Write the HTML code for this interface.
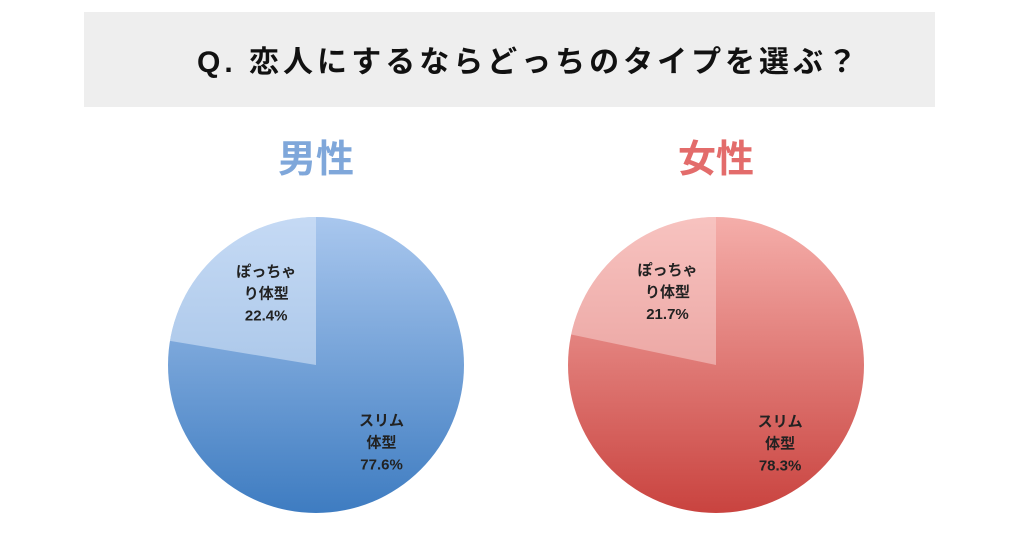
<!DOCTYPE html>
<html><head><meta charset="utf-8"><style>
html,body{margin:0;padding:0;background:#fff;width:1024px;height:538px;overflow:hidden}
svg{display:block}
text{font-family:"Liberation Sans","Noto Sans CJK JP",sans-serif}
</style></head><body>
<svg id="chart" width="1024" height="538" viewBox="0 0 1024 538">
<defs>
<linearGradient id="gb" x1="0" y1="0" x2="0" y2="1"><stop offset="0" stop-color="#a9c7ee"/><stop offset="1" stop-color="#3e7cc1"/></linearGradient>
<linearGradient id="gr" x1="0" y1="0" x2="0" y2="1"><stop offset="0" stop-color="#f5aeaa"/><stop offset="1" stop-color="#c9433f"/></linearGradient>
</defs>
<rect x="84" y="12" width="851" height="95" fill="#eeeeee"/>
<text x="197" y="72" textLength="660" lengthAdjust="spacing" font-size="30" font-weight="bold" fill="#111">Q. 恋人にするならどっちのタイプを選ぶ？</text>
<g id="pies"></g>
</svg>
<script>
const groups = ["男性", "女性"];
const categories = ["スリム体型", "ぽっちゃり体型"];
const slimValues = [77.6, 78.3];
const chubbyValues = [22.4, 21.7];
const centersX = [316, 716];
const cy = 365, r = 148;
const headColors = ["#7fa7da", "#e36c6b"];
const grads = ["url(#gb)", "url(#gr)"];
const smallFill = ["rgba(220,233,250,0.55)", "rgba(250,215,213,0.5)"];
const NS = "http://www.w3.org/2000/svg";
const g = document.getElementById("pies");
function pt(cx, a){ return [cx + r*Math.sin(a), cy - r*Math.cos(a)]; }
function arc(cx, a0, a1){
  const p0 = pt(cx,a0), p1 = pt(cx,a1);
  const large = (a1-a0) > Math.PI ? 1 : 0;
  return `M${cx},${cy} L${p0[0]},${p0[1]} A${r},${r} 0 ${large} 1 ${p1[0]},${p1[1]} Z`;
}
function txt(x,y,s,size,fill,name){
  const t = document.createElementNS(NS,"text");
  t.setAttribute("x",x); t.setAttribute("y",y);
  t.setAttribute("text-anchor","middle"); t.setAttribute("font-size",size);
  t.setAttribute("font-weight","bold"); t.setAttribute("fill",fill);
  t.textContent = s;
  
  
  g.appendChild(t);
}
groups.forEach((grp,i)=>{
  const cx = centersX[i];
  const total = slimValues[i] + chubbyValues[i];
  const aSlim = slimValues[i]/total*2*Math.PI;
  txt(cx, 172, grp, 38, headColors[i], "group-heading");
  const base = document.createElementNS(NS,"circle");
  base.setAttribute("cx",cx); base.setAttribute("cy",cy); base.setAttribute("r",r);
  base.setAttribute("fill",grads[i]);
  
  
  g.appendChild(base);
  const s1 = document.createElementNS(NS,"path");
  s1.setAttribute("d", arc(cx, 0, aSlim));
  s1.setAttribute("fill", "rgba(0,0,0,0)");
  
  
  g.appendChild(s1);
  const s2 = document.createElementNS(NS,"path");
  s2.setAttribute("d", arc(cx, aSlim, 2*Math.PI));
  s2.setAttribute("fill", smallFill[i]);
  
  
  g.appendChild(s2);
  const mS = aSlim/2, mC = (aSlim+2*Math.PI)/2;
  const lx = cx + r*0.58*Math.sin(mS), ly = cy - r*0.58*Math.cos(mS);
  txt(lx+10, ly-5, "スリム", 15, "#222", "label-slim");
  txt(lx+10, ly+17, "体型", 15, "#222", "label-slim");
  txt(lx+10, ly+39, slimValues[i].toFixed(1)+"%", 15, "#222", "value-slim");
  const cxl = cx + r*0.52*Math.sin(mC), cyl = cy - r*0.52*Math.cos(mC);
  txt(cxl, cyl-30, "ぽっちゃ", 15, "#222", "label-chubby");
  txt(cxl, cyl-8, "り体型", 15, "#222", "label-chubby");
  txt(cxl, cyl+14, chubbyValues[i].toFixed(1)+"%", 15, "#222", "value-chubby");
});
</script>
</body></html>
